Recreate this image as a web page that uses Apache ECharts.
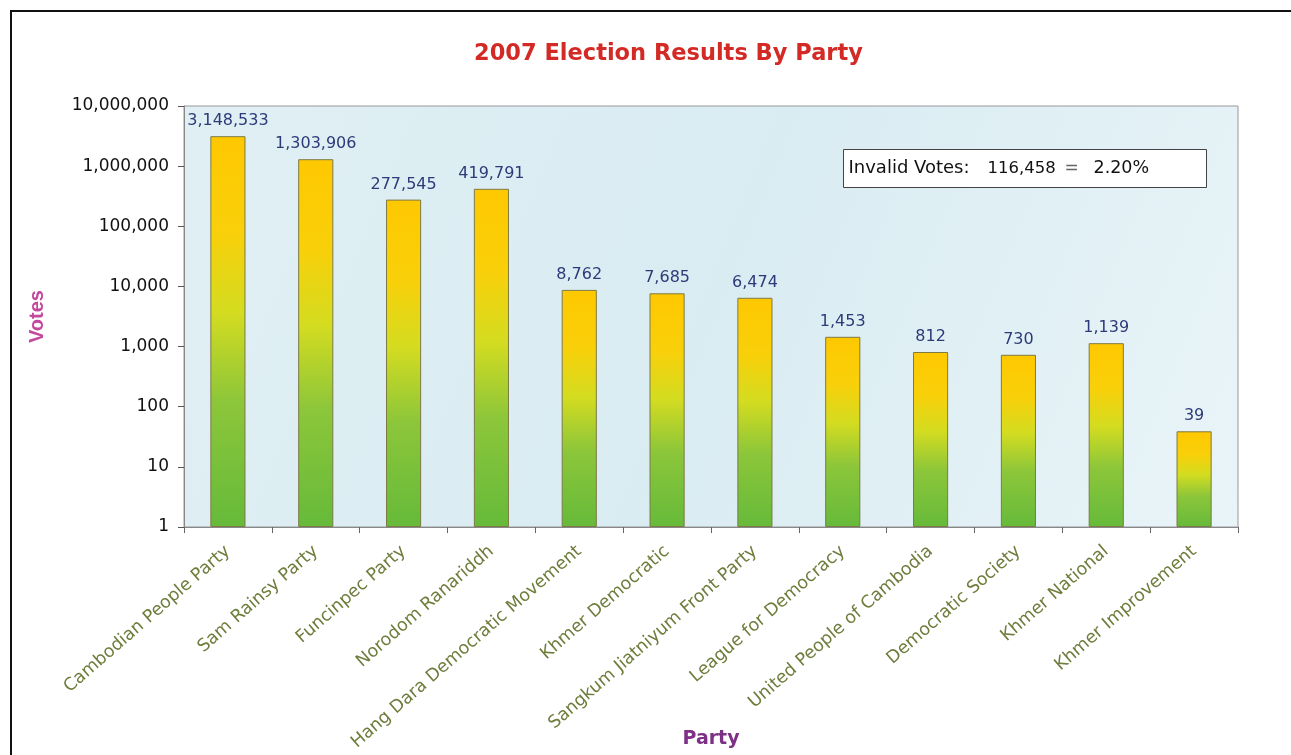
<!DOCTYPE html>
<html>
<head>
<meta charset="utf-8">
<script src="https://cdn.jsdelivr.net/npm/echarts@6/dist/echarts.min.js"></script>
<style>
  html, body { margin: 0; padding: 0; background: #fff; overflow: hidden; }
  #frame { position: absolute; left: 10px; top: 10px; width: 1281px; height: 745px;
           border-left: 2px solid #111; border-top: 2px solid #111; box-sizing: border-box; }
  #main { position: absolute; left: 0; top: 0; width: 1291px; height: 755px; }
</style>
</head>
<body>
<div id="frame"></div>
<div id="main"></div>
<script>
// 各政党名称
const parties = ['Cambodian People Party', 'Sam Rainsy Party', 'Funcinpec Party', 'Norodom Ranariddh',
  'Hang Dara Democratic Movement', 'Khmer Democratic', 'Sangkum Jiatniyum Front Party',
  'League for Democracy', 'United People of Cambodia', 'Democratic Society', 'Khmer National',
  'Khmer Improvement'];
// 得票数
const votes = [3148533, 1303906, 277545, 419791, 8762, 7685, 6474, 1453, 812, 730, 1139, 39];
// y轴刻度
const yTicks = [1, 10, 100, 1000, 10000, 100000, 1000000, 10000000];
// 无效票
const invalidVotes = '116,458';
const invalidPct = '2.20%';

const fmt = v => Math.round(v).toLocaleString('en-US');

const chart = echarts.init(document.getElementById('main'));
const wide = 'DejaVu Sans, Verdana, sans-serif';
const arial = 'Liberation Sans, Arial, sans-serif';

const option = {
  backgroundColor: 'transparent',
  textStyle: { fontFamily: wide },
  title: {
    text: '2007 Election Results By Party',
    left: 469,
    top: 38,
    textStyle: { color: '#D42A26', fontSize: 22.5, fontWeight: 'bold', fontFamily: wide }
  },
  grid: {
    left: 184, right: 53, top: 106, bottom: 228,
    outerBoundsMode: 'none',
    containLabel: false,
    show: true,
    borderColor: '#999',
    borderWidth: 1,
    backgroundColor: new echarts.graphic.LinearGradient(0, 0, 1, 1, [
      { offset: 0, color: '#E0EFF4' },
      { offset: 0.5, color: '#D9ECF2' },
      { offset: 1, color: '#E9F4F8' }
    ])
  },
  xAxis: {
    type: 'category',
    data: parties,
    name: 'Party',
    nameLocation: 'middle',
    nameGap: 203,
    nameMoveOverlap: false,
    nameTextStyle: { color: '#7E2F86', fontSize: 19, fontWeight: 'bold', fontFamily: wide },
    axisLine: { lineStyle: { color: '#888', width: 1 } },
    axisTick: { show: true, length: 6, lineStyle: { color: '#666' } },
    axisLabel: { rotate: 41, color: '#6E7D3C', fontSize: 17.5, interval: 0, margin: 22, fontFamily: wide }
  },
  yAxis: {
    type: 'log',
    logBase: 10,
    min: yTicks[0],
    max: yTicks[yTicks.length - 1],
    name: 'Votes',
    nameLocation: 'middle',
    nameGap: 137,
    nameMoveOverlap: false,
    nameTextStyle: { color: '#C4489C', fontSize: 20, fontWeight: 'bold', fontFamily: arial },
    axisLine: { show: true, lineStyle: { color: '#888', width: 1 } },
    axisTick: { show: true, length: 6, lineStyle: { color: '#555' } },
    splitLine: { show: false },
    axisLabel: { color: '#111', fontSize: 17, margin: 15, formatter: v => fmt(v), fontFamily: wide }
  },
  series: [{
    type: 'bar',
    data: votes,
    barWidth: '40%',
    itemStyle: {
      borderColor: '#7D7A45',
      borderWidth: 1,
      color: new echarts.graphic.LinearGradient(0, 0, 0, 1, [
        { offset: 0, color: '#FFC800' },
        { offset: 0.25, color: '#F8D00A' },
        { offset: 0.45, color: '#D4DC20' },
        { offset: 0.68, color: '#8CC63A' },
        { offset: 1, color: '#66BA3A' }
      ])
    },
    label: {
      show: true,
      position: 'top',
      distance: 7,
      color: '#2E3A78',
      fontSize: 16,
      fontFamily: wide,
      formatter: p => fmt(p.value)
    }
  }],
  graphic: [{
    type: 'group',
    left: 843,
    top: 149,
    children: [{
      type: 'rect',
      shape: { x: 0, y: 0, width: 363, height: 38 },
      style: { fill: '#fff', stroke: '#444', lineWidth: 1 }
    }, {
      type: 'text', x: 5, y: 19,
      style: { text: 'Invalid Votes:', fill: '#111', fontSize: 18, fontFamily: wide, verticalAlign: 'middle' }
    }, {
      type: 'text', x: 144, y: 19,
      style: { text: invalidVotes, fill: '#111', fontSize: 16.5, fontFamily: wide, verticalAlign: 'middle' }
    }, {
      type: 'text', x: 228, y: 19,
      style: { text: '=', fill: '#666', fontSize: 17, fontFamily: wide, align: 'center', verticalAlign: 'middle' }
    }, {
      type: 'text', x: 250, y: 19,
      style: { text: invalidPct, fill: '#111', fontSize: 17.5, fontFamily: wide, verticalAlign: 'middle' }
    }]
  }]
};

chart.setOption(option);
</script>
</body>
</html>
